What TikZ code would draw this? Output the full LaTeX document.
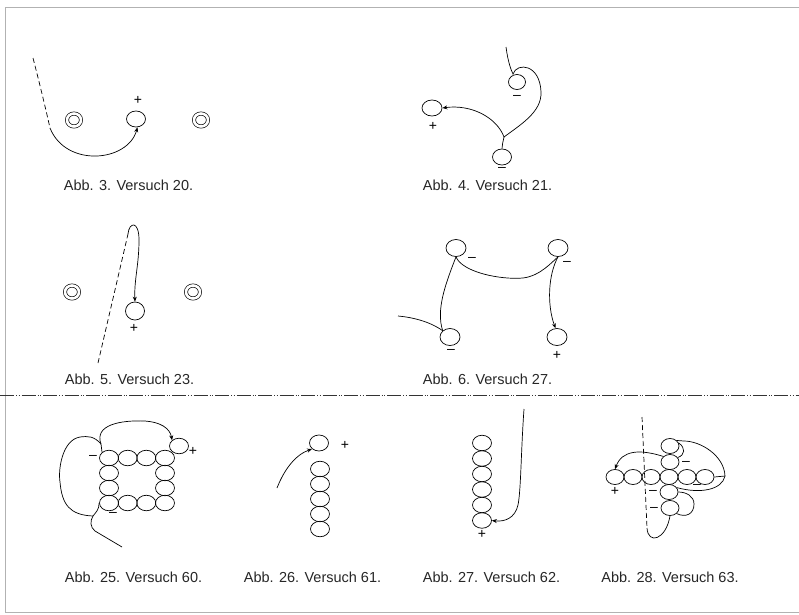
\documentclass[tikz,border=0pt]{standalone}
\usepackage{fontspec}
\setmainfont{Liberation Sans}
\usetikzlibrary{shapes.geometric,arrows.meta}
\begin{document}
\begin{tikzpicture}[x=1pt,y=-1pt,
  ring/.style={ellipse,draw,line width=0.7pt,minimum width=19pt,minimum height=16pt,inner sep=0pt},
  bead/.style={ellipse,draw,line width=0.7pt,minimum width=19pt,minimum height=15.5pt,inner sep=0pt},
  dring/.style={ellipse,draw,line width=0.65pt,double,double distance=2.6pt,minimum width=14pt,minimum height=13pt,inner sep=0pt},
  captxt/.style={font=\fontsize{14.5}{16}\selectfont,text=black!85,inner sep=0pt},
  sgn/.style={font=\fontsize{14}{14}\selectfont,inner sep=0pt},
  wire/.style={line width=0.7pt},
  arr/.style={wire,-{Stealth[length=5pt,width=4pt]}},
  dwire/.style={line width=0.7pt,dash pattern=on 5pt off 3pt},
  framestyle/.style={gray!60,line width=0.8pt},
  divider/.style={black!80,line width=0.9pt,dash pattern=on 14pt off 2pt on 1pt off 1.5pt on 1pt off 2pt}
]
\useasboundingbox (0,0) rectangle (799,614);
% frame and divider
\draw[framestyle] (799,7) -- (5,7) -- (5,612) -- (799,612);
\draw[divider] (0,395) -- (799,395);

% ---------- Abb. 3
\node[dring] (f3a) at (74,120) {};
\node[ring] (f3b) at (136,119) {};
\node[dring] (f3c) at (201,120) {};
\node[sgn] (f3p) at (138,100) {+};
\coordinate (f3s) at (33,58);
\coordinate (f3m) at (50,128);
\draw[dwire] (f3s) .. controls (40,85) and (46,110) .. (f3m);
\draw[arr] (f3m) .. controls (66,168) and (128,162) .. (f3b.-80);
\node[captxt] (c3) at (128.5,185) {Abb. 3. Versuch 20.};

% ---------- Abb. 4
\node[ring,minimum width=17pt,minimum height=15pt] (f4u) at (517,82) {};
\node[sgn] (f4um) at (517,97) {–};
\node[ring,minimum width=20pt,minimum height=16pt] (f4l) at (432,108) {};
\node[sgn] (f4lp) at (433,126) {+};
\node[ring] (f4d) at (502,157) {};
\node[sgn] (f4dm) at (502,169) {–};
\coordinate (f4s) at (506,47);
\coordinate (f4k) at (513,74);
\coordinate (f4r) at (541,92);
\coordinate (f4j) at (504,137);
\draw[wire] (f4s) .. controls (508,62) and (511,70) .. (f4k)
  .. controls (517,62) and (540,64) .. (f4r)
  .. controls (542,112) and (520,125) .. (f4j);
\draw[wire] (f4j) .. controls (503,142) and (502,145) .. (f4d.north);
\draw[arr] (f4j) .. controls (497,118) and (472,104) .. (f4l.east);
\node[captxt] (c4) at (487.5,185) {Abb. 4. Versuch 21.};

% ---------- Abb. 5
\node[dring] (f5a) at (72,292) {};
\node[dring] (f5c) at (193,292) {};
\node[ring,minimum height=18pt] (f5b) at (135,311) {};
\node[sgn] (f5p) at (134,328) {+};
\coordinate (f5s) at (98,363);
\coordinate (f5t) at (128,234);
\draw[dwire] (f5s) -- (f5t);
\draw[arr] (f5t) .. controls (129,222) and (139,220) .. (139,240)
  .. controls (139,265) and (134,280) .. (f5b.north);
\node[captxt] (c5) at (129.5,379) {Abb. 5. Versuch 23.};

% ---------- Abb. 6
\node[ring,minimum width=20pt,minimum height=17pt] (f6tl) at (456,248) {};
\node[ring,minimum width=20pt,minimum height=17pt] (f6tr) at (558,248) {};
\node[ring,minimum width=20pt,minimum height=17pt] (f6bl) at (450,337) {};
\node[ring,minimum width=20pt,minimum height=17pt] (f6br) at (557,337) {};
\node[sgn] (f6m1) at (472,259) {–};
\node[sgn] (f6m2) at (567,263) {–};
\node[sgn] (f6m3) at (451,351) {–};
\node[sgn] (f6p) at (557,355) {+};
\coordinate (f6mid) at (523,278);
\coordinate (f6s) at (398,316);
\draw[wire] (f6tl.south) .. controls (462,272) and (500,280) .. (f6mid)
  .. controls (540,276) and (552,262) .. (f6tr.south);
\draw[arr] (f6tr.south) .. controls (548,275) and (547,305) .. (f6br.100);
\draw[wire] (f6tl.south) .. controls (445,285) and (436,310) .. (f6bl.north west);
\draw[wire] (f6s) .. controls (420,318) and (435,325) .. (f6bl.north west);
\node[captxt] (c6) at (487.5,379) {Abb. 6. Versuch 27.};

% ---------- Abb. 25
\foreach \i/\x in {1/109,2/127.7,3/146.3,4/165}{
  \node[bead] (g25t\i) at (\x,458) {};
  \node[bead] (g25b\i) at (\x,503) {};
}
\node[bead] (g25l2) at (109,473) {};
\node[bead] (g25l3) at (109,488) {};
\node[bead] (g25r2) at (165,473) {};
\node[bead] (g25r3) at (165,488) {};
\node[bead] (g25x) at (179,446) {};
\node[sgn] (g25p) at (193,451) {+};
\node[sgn] (g25m1) at (93,457) {–};
\node[sgn] (g25m2) at (113,514) {–};
\coordinate (g25j1) at (101,444);
\coordinate (g25j2) at (93,516);
\coordinate (g25e) at (122,547);
\draw[wire] (g25j1) -- (g25t1.north west);
\draw[arr] (g25j1) .. controls (94,425) and (120,420) .. (145,421)
  .. controls (160,422) and (170,428) .. (g25x.north west);
\draw[wire] (g25j1) .. controls (94,436) and (88,436) .. (80,437)
  .. controls (62,440) and (58,470) .. (60,482)
  .. controls (62,505) and (70,515) .. (g25j2);
\draw[wire] (g25j2) .. controls (96,512) and (99,510) .. (g25b1.west);
\draw[wire] (g25j2) .. controls (90,521) and (90,527) .. (95,531) -- (g25e);
\node[captxt] (c25) at (133.5,577) {Abb. 25. Versuch 60.};

% ---------- Abb. 26
\node[ring] (g26t) at (319,443) {};
\node[sgn] (g26p) at (345,445) {+};
\foreach \i/\y in {1/469,2/484,3/499,4/514,5/529}{
  \node[bead] (g26c\i) at (320,\y) {};
}
\coordinate (g26s) at (277,488);
\draw[arr] (g26s) .. controls (284,470) and (295,455) .. (g26t.south west);
\node[captxt] (c26) at (312.5,577) {Abb. 26. Versuch 61.};

% ---------- Abb. 27
\foreach \i/\y in {1/443,2/458.5,3/474,4/489.5,5/505,6/520.5}{
  \node[bead] (g27c\i) at (482,\y) {};
}
\node[sgn] (g27p) at (482,534) {+};
\coordinate (g27s) at (524,409);
\draw[arr] (g27s) .. controls (521,450) and (521,490) .. (518,505)
  .. controls (515,518) and (505,522) .. (g27c6.east);
\node[captxt] (c27) at (491.5,577) {Abb. 27. Versuch 62.};

% ---------- Abb. 28
\tikzset{sbead/.style={bead,minimum width=18pt,minimum height=15pt}}
\foreach \i/\x in {1/615,2/633,3/651,4/669,5/687,6/705}{
  \node[sbead] (g28r\i) at (\x,477) {};
}
\node[sbead] (g28u1) at (670,446) {};
\node[sbead] (g28u2) at (670,462) {};
\node[sbead] (g28d1) at (669,492) {};
\node[sbead] (g28d2) at (670,508) {};
\node[sgn] (g28m0) at (697,486) {–};
\node[sgn] (g28m1) at (686,463) {–};
\node[sgn] (g28m2) at (653,492) {–};
\node[sgn] (g28m3) at (654,509) {–};
\node[sgn] (g28p) at (615,491) {+};
\coordinate (g28e) at (725,476);
\coordinate (g28ds) at (642,417);
\coordinate (g28de) at (647,528);
\draw[wire] (g28u1.40) -- (684,441) .. controls (700,441) and (724,455) .. (g28e);
\draw[wire] (g28u1.20) .. controls (686,448) and (685,455) .. (g28u2.30);
\draw[wire] (g28e) -- (g28r6.east);
\draw[wire] (g28e) .. controls (722,490) and (700,494) .. (g28d1.30);
\draw[arr] (g28u2.north west) .. controls (640,449) and (622,450) .. (g28r1.north);
\draw[dwire] (g28ds) -- (g28de);
\draw[wire] (g28de) .. controls (648,545) and (666,540) .. (g28d2.south);
\draw[wire] (g28d1.east) .. controls (686,492) and (694,496) .. (694,504)
  .. controls (694,514) and (686,518) .. (g28d2.south east);
\node[captxt] (c28) at (670,577) {Abb. 28. Versuch 63.};
\end{tikzpicture}
\end{document}
